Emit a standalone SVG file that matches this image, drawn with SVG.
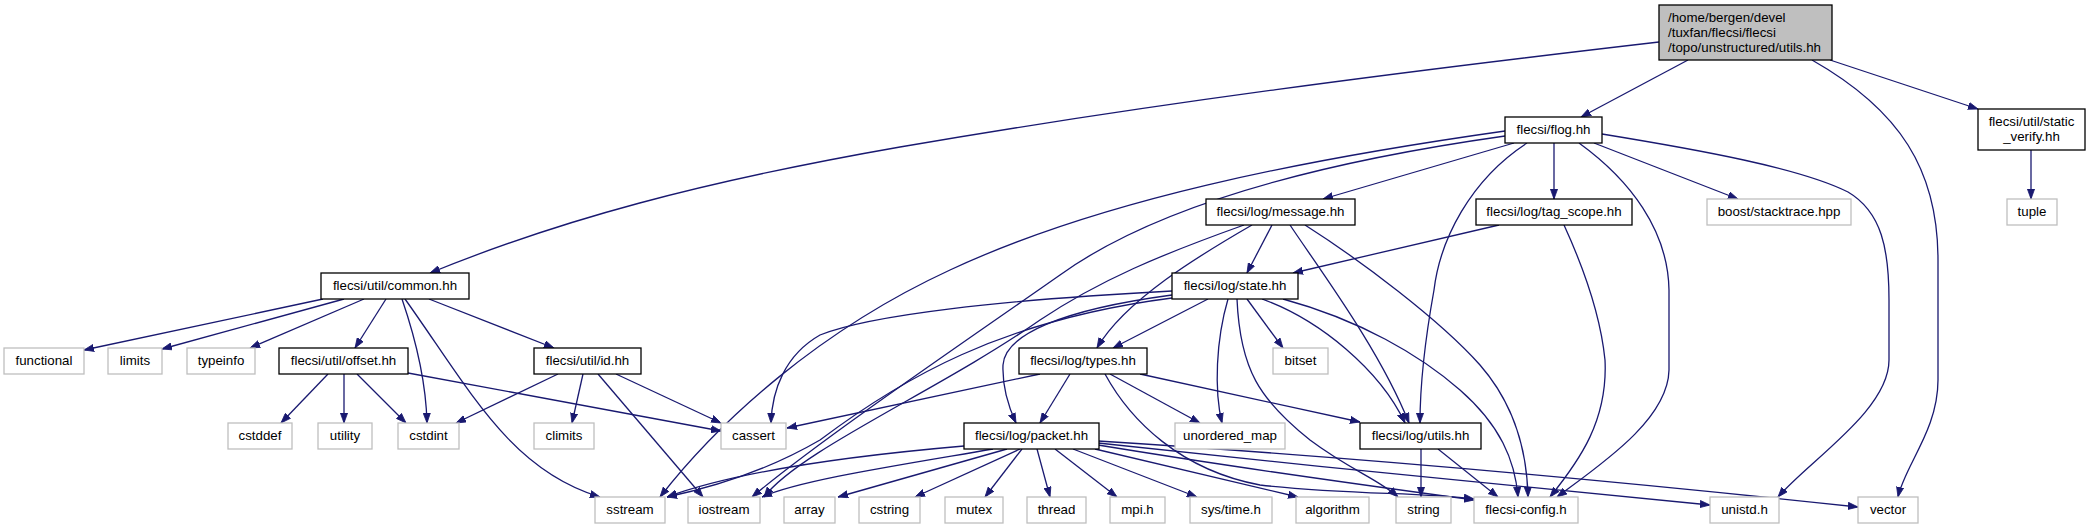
<svg xmlns="http://www.w3.org/2000/svg" width="2093" height="529" viewBox="0 0 2093 529">
<style>
.n rect{fill:#fff;stroke:#000;stroke-width:1.3}
.g rect{fill:#fff;stroke:#bfbfbf;stroke-width:1.3}
.r rect{fill:#bfbfbf;stroke:#000;stroke-width:1.3}
text{font-family:"Liberation Sans",Helvetica,Arial,sans-serif;font-size:13.3px;fill:#000;text-anchor:middle}
.r text{text-anchor:start}
#edges path{fill:none;stroke:#191970;stroke-width:1.3;marker-end:url(#ah)}
</style>
<defs>
<marker id="ah" viewBox="0 0 10 8" refX="10" refY="4" markerWidth="10" markerHeight="8" markerUnits="userSpaceOnUse" orient="auto">
<path d="M0,0.4 L10,4 L0,7.6 z" fill="#191970" stroke="#191970" stroke-width="0.8"/>
</marker>
</defs>
<rect width="2093" height="529" fill="#fff"/>
<g id="edges">
<path d="M1688,60 L1581,117"/>
<path d="M1659,42 C1400,72 1150,104 900,147 C700,182 560,220 430,273"/>
<path d="M1830,60 L1978,109"/>
<path d="M1812,60 C1900,110 1938,170 1938,260 L1938,380 C1938,430 1905,465 1898,497"/>
<path d="M2031,150 L2031,199"/>
<path d="M1514,143 L1323,199"/>
<path d="M1554,143 L1554,199"/>
<path d="M1594,143 L1738,199"/>
<path d="M1527,143 C1470,180 1440,240 1434,290 C1425,340 1420,390 1420,423"/>
<path d="M1579,143 C1630,180 1668,230 1669,290 L1669,370 C1668,420 1600,465 1557,497"/>
<path d="M1602,134 C1700,150 1800,168 1848,192 C1882,212 1889,250 1889,300 L1889,360 C1889,410 1810,460 1778,497"/>
<path d="M1505,131 C1300,160 1100,200 950,270 C820,330 720,420 660,497"/>
<path d="M1505,136 C1300,165 1150,210 1060,275 C960,345 820,440 752,497"/>
<path d="M323,299 L84,350"/>
<path d="M344,299 L162,349"/>
<path d="M364,299 L250,348"/>
<path d="M386,299 L355,348"/>
<path d="M402,299 C416,340 426,380 427,423"/>
<path d="M405,299 C470,390 510,470 600,497"/>
<path d="M429,299 L554,348"/>
<path d="M328,374 L281,423"/>
<path d="M344,374 L344,423"/>
<path d="M357,374 L406,423"/>
<path d="M408,373 L721,431"/>
<path d="M558,374 L456,423"/>
<path d="M583,374 L572,423"/>
<path d="M598,374 L703,497"/>
<path d="M616,374 L721,423"/>
<path d="M1272,225 L1247,273"/>
<path d="M1252,225 C1200,255 1125,300 1097,348"/>
<path d="M1244,225 C1160,255 1100,280 1040,320 C940,390 800,450 764,497"/>
<path d="M1290,225 C1320,270 1380,350 1409,423"/>
<path d="M1305,225 C1360,260 1440,320 1480,365 C1515,405 1527,450 1528,497"/>
<path d="M1499,225 L1293,273"/>
<path d="M1564,225 C1580,260 1600,310 1605,360 C1608,420 1580,460 1550,497"/>
<path d="M1172,291 C1000,300 870,315 820,335 C785,355 772,390 771,423"/>
<path d="M1172,295 C1060,310 1005,335 1003,365 C1002,390 1010,410 1016,423"/>
<path d="M1172,298 C1000,320 900,380 820,440 C760,475 700,490 667,497"/>
<path d="M1208,299 L1113,348"/>
<path d="M1228,299 C1216,340 1214,390 1222,423"/>
<path d="M1237,299 C1240,370 1260,400 1310,440 C1350,470 1380,480 1398,497"/>
<path d="M1247,299 L1283,348"/>
<path d="M1262,299 C1320,320 1380,370 1405,423"/>
<path d="M1283,299 C1360,320 1420,355 1460,390 C1500,425 1515,460 1518,497"/>
<path d="M1040,374 L787,428"/>
<path d="M1070,374 L1040,423"/>
<path d="M1110,374 L1200,423"/>
<path d="M1140,374 L1360,422"/>
<path d="M1105,374 C1130,420 1180,470 1260,485 C1350,495 1420,492 1474,499"/>
<path d="M1421,449 L1421,497"/>
<path d="M1438,449 L1498,497"/>
<path d="M964,446 C860,455 740,470 667,497"/>
<path d="M993,449 C900,465 800,480 762,497"/>
<path d="M1007,449 L838,497"/>
<path d="M1020,449 L915,497"/>
<path d="M1022,449 L985,497"/>
<path d="M1037,449 L1050,497"/>
<path d="M1055,449 L1117,497"/>
<path d="M1073,449 L1197,497"/>
<path d="M1095,449 L1298,497"/>
<path d="M1098,445 C1250,470 1400,490 1474,500"/>
<path d="M1098,443 C1300,465 1550,490 1710,505"/>
<path d="M1098,441 C1400,460 1700,490 1858,507"/>
</g>
<g id="root" class="r"><rect x="1659" y="5" width="173" height="55"/><text x="1668" y="21.5">/home/bergen/devel</text><text x="1668" y="36.5">/tuxfan/flecsi/flecsi</text><text x="1668" y="51.5">/topo/unstructured/utils.hh</text></g>
<g id="flog" class="n"><rect x="1505" y="117" width="97" height="26"/><text x="1553.5" y="134">flecsi/flog.hh</text></g>
<g id="static_verify" class="n"><rect x="1978" y="109" width="107" height="41"/><text x="2031.5" y="126">flecsi/util/static</text><text x="2031.5" y="141">_verify.hh</text></g>
<g id="tuple" class="g"><rect x="2007" y="199" width="50" height="26"/><text x="2032" y="216">tuple</text></g>
<g id="message" class="n"><rect x="1206" y="199" width="149" height="26"/><text x="1280.5" y="216">flecsi/log/message.hh</text></g>
<g id="tag_scope" class="n"><rect x="1476" y="199" width="156" height="26"/><text x="1554" y="216">flecsi/log/tag_scope.hh</text></g>
<g id="boost" class="g"><rect x="1707" y="199" width="144" height="26"/><text x="1779" y="216">boost/stacktrace.hpp</text></g>
<g id="common" class="n"><rect x="321" y="273" width="148" height="26"/><text x="395" y="290">flecsi/util/common.hh</text></g>
<g id="state" class="n"><rect x="1172" y="273" width="126" height="26"/><text x="1235" y="290">flecsi/log/state.hh</text></g>
<g id="functional" class="g"><rect x="4" y="348" width="80" height="26"/><text x="44" y="365">functional</text></g>
<g id="limits" class="g"><rect x="108" y="348" width="54" height="26"/><text x="135" y="365">limits</text></g>
<g id="typeinfo" class="g"><rect x="187" y="348" width="68" height="26"/><text x="221" y="365">typeinfo</text></g>
<g id="offset" class="n"><rect x="279" y="348" width="129" height="26"/><text x="343.5" y="365">flecsi/util/offset.hh</text></g>
<g id="id" class="n"><rect x="534" y="348" width="107" height="26"/><text x="587.5" y="365">flecsi/util/id.hh</text></g>
<g id="types" class="n"><rect x="1019" y="348" width="128" height="26"/><text x="1083" y="365">flecsi/log/types.hh</text></g>
<g id="bitset" class="g"><rect x="1273" y="348" width="55" height="26"/><text x="1300.5" y="365">bitset</text></g>
<g id="cstddef" class="g"><rect x="228" y="423" width="64" height="26"/><text x="260" y="440">cstddef</text></g>
<g id="utility" class="g"><rect x="318" y="423" width="54" height="26"/><text x="345" y="440">utility</text></g>
<g id="cstdint" class="g"><rect x="398" y="423" width="61" height="26"/><text x="428.5" y="440">cstdint</text></g>
<g id="climits" class="g"><rect x="534" y="423" width="60" height="26"/><text x="564" y="440">climits</text></g>
<g id="cassert" class="g"><rect x="721" y="423" width="65" height="26"/><text x="753.5" y="440">cassert</text></g>
<g id="packet" class="n"><rect x="964" y="423" width="135" height="26"/><text x="1031.5" y="440">flecsi/log/packet.hh</text></g>
<g id="unordered_map" class="g"><rect x="1175" y="423" width="110" height="26"/><text x="1230" y="440">unordered_map</text></g>
<g id="log_utils" class="n"><rect x="1360" y="423" width="121" height="26"/><text x="1420.5" y="440">flecsi/log/utils.hh</text></g>
<g id="sstream" class="g"><rect x="595" y="497" width="70" height="26"/><text x="630" y="514">sstream</text></g>
<g id="iostream" class="g"><rect x="688" y="497" width="72" height="26"/><text x="724" y="514">iostream</text></g>
<g id="array" class="g"><rect x="784" y="497" width="51" height="26"/><text x="809.5" y="514">array</text></g>
<g id="cstring" class="g"><rect x="859" y="497" width="61" height="26"/><text x="889.5" y="514">cstring</text></g>
<g id="mutex" class="g"><rect x="945" y="497" width="58" height="26"/><text x="974" y="514">mutex</text></g>
<g id="thread" class="g"><rect x="1027" y="497" width="59" height="26"/><text x="1056.5" y="514">thread</text></g>
<g id="mpi" class="g"><rect x="1110" y="497" width="55" height="26"/><text x="1137.5" y="514">mpi.h</text></g>
<g id="systime" class="g"><rect x="1190" y="497" width="82" height="26"/><text x="1231" y="514">sys/time.h</text></g>
<g id="algorithm" class="g"><rect x="1296" y="497" width="73" height="26"/><text x="1332.5" y="514">algorithm</text></g>
<g id="string" class="g"><rect x="1396" y="497" width="55" height="26"/><text x="1423.5" y="514">string</text></g>
<g id="config" class="g"><rect x="1474" y="497" width="104" height="26"/><text x="1526" y="514">flecsi-config.h</text></g>
<g id="unistd" class="g"><rect x="1710" y="497" width="69" height="26"/><text x="1744.5" y="514">unistd.h</text></g>
<g id="vector" class="g"><rect x="1858" y="497" width="60" height="26"/><text x="1888" y="514">vector</text></g>
</svg>
